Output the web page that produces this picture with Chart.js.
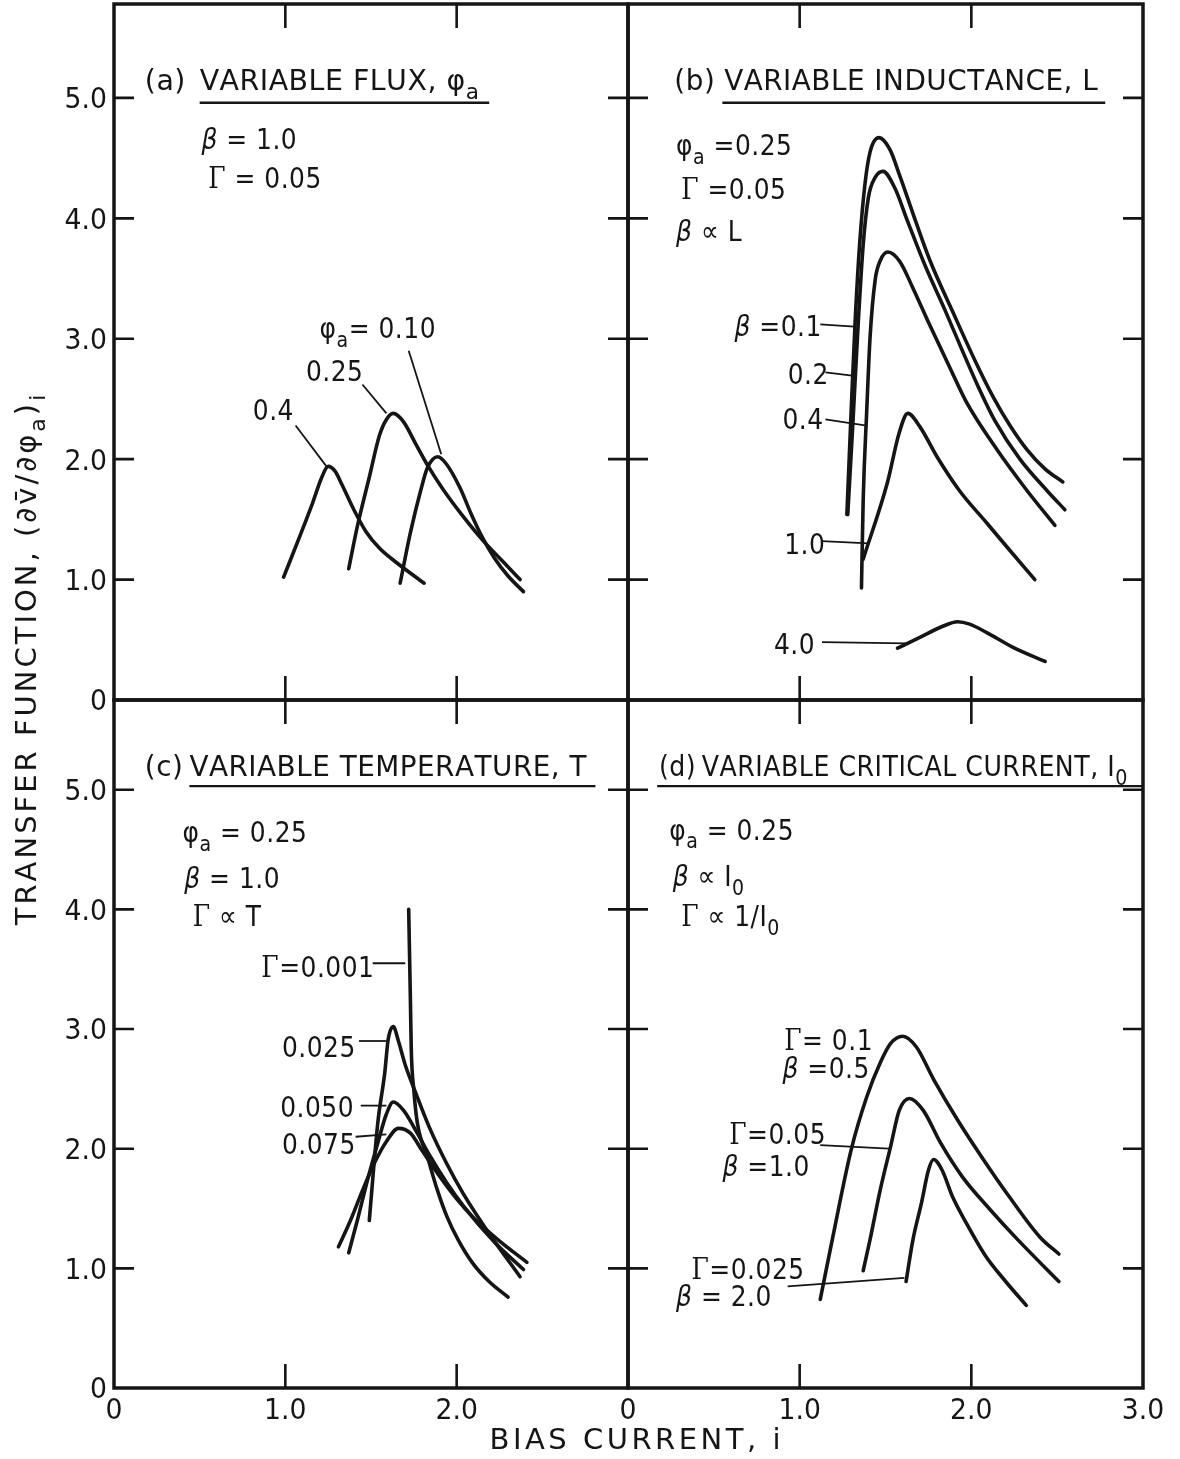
<!DOCTYPE html>
<html>
<head>
<meta charset="utf-8">
<title>Transfer function vs bias current</title>
<script src="https://cdn.jsdelivr.net/npm/chart.js@4.4.1/dist/chart.umd.min.js"></script>
<style>
  html, body { margin: 0; padding: 0; background: #fff; }
  #fig { position: relative; width: 1180px; height: 1459px; }
  #fig canvas { position: absolute; left: 0; top: 0; }
</style>
</head>
<body>
<div id="fig">
  <canvas id="panel-a" width="1180" height="1459"></canvas>
  <canvas id="panel-b" width="1180" height="1459"></canvas>
  <canvas id="panel-c" width="1180" height="1459"></canvas>
  <canvas id="panel-d" width="1180" height="1459"></canvas>
</div>
<script>
// ---- axes ----
const yTickValues = [1, 2, 3, 4, 5];
const xTickValues = [1, 2];
const yLabelValues = [0, 1, 2, 3, 4, 5];
const yLabelText = ['0', '1.0', '2.0', '3.0', '4.0', '5.0'];
const xLabelValues = [0, 1, 2, 3];
const xLabelText = ['0', '1.0', '2.0', '3.0'];

// ---- (a) variable flux, beta = 1.0, gamma = 0.05 ----
const fluxPhi010 = [[1.67,0.97],[1.73,1.39],[1.79,1.74],[1.83,1.93],[1.89,2.02],[1.94,1.96],[2.02,1.76],[2.08,1.56],[2.15,1.35],[2.22,1.18],[2.30,1.03],[2.39,0.90]];
const fluxPhi025 = [[1.37,1.09],[1.42,1.44],[1.49,1.85],[1.55,2.20],[1.59,2.33],[1.63,2.38],[1.69,2.31],[1.76,2.13],[1.83,1.95],[1.92,1.75],[2.04,1.52],[2.15,1.33],[2.27,1.15],[2.37,1.00]];
const fluxPhi040 = [[0.99,1.02],[1.09,1.38],[1.16,1.64],[1.21,1.84],[1.25,1.94],[1.29,1.90],[1.33,1.79],[1.40,1.58],[1.47,1.40],[1.55,1.26],[1.65,1.14],[1.81,0.97]];
const leadersFlux = [
  [[1.06,2.28],[1.24,1.94]],
  [[1.45,2.62],[1.59,2.38]],
  [[1.72,2.90],[1.91,2.04]]
];

// ---- (b) variable inductance, phi_a = 0.25, gamma = 0.05 ----
const indBeta01 = [[1.275,1.54],[1.30,2.40],[1.325,3.20],[1.35,3.80],[1.38,4.28],[1.41,4.55],[1.462,4.67],[1.526,4.57],[1.584,4.35],[1.66,4.04],[1.759,3.65],[1.893,3.22],[2.021,2.82],[2.126,2.52],[2.225,2.28],[2.324,2.08],[2.429,1.92],[2.533,1.81]];
const indBeta02 = [[1.28,1.54],[1.31,2.30],[1.34,3.10],[1.37,3.78],[1.40,4.17],[1.44,4.34],[1.485,4.39],[1.555,4.25],[1.625,3.99],[1.73,3.61],[1.846,3.24],[1.945,2.91],[2.044,2.59],[2.137,2.32],[2.283,2.00],[2.44,1.74],[2.545,1.58]];
const indBeta04 = [[1.36,0.93],[1.37,1.66],[1.39,2.38],[1.41,3.01],[1.44,3.49],[1.47,3.65],[1.514,3.72],[1.584,3.64],[1.66,3.42],[1.759,3.11],[1.875,2.76],[1.969,2.48],[2.149,2.08],[2.324,1.74],[2.487,1.45]];
const indBeta10 = [[1.37,1.17],[1.51,1.80],[1.58,2.22],[1.63,2.38],[1.70,2.27],[1.80,2.02],[1.93,1.74],[2.09,1.47],[2.22,1.25],[2.37,1.00]];
const indBeta40 = [[1.57,0.43],[1.70,0.52],[1.83,0.61],[1.92,0.65],[1.99,0.63],[2.09,0.56],[2.24,0.44],[2.43,0.32]];
const leadersInductance = [
  [[1.12,3.12],[1.32,3.10]],
  [[1.15,2.72],[1.33,2.69]],
  [[1.15,2.33],[1.38,2.28]],
  [[1.13,1.32],[1.40,1.30]],
  [[1.13,0.48],[1.62,0.47]]
];

// ---- (c) variable temperature, phi_a = 0.25, beta = 1.0 ----
const tempGam0001 = [[1.72,4.00],[1.73,3.24],[1.735,2.83],[1.75,2.49],[1.77,2.22],[1.83,1.93],[1.886,1.66],[1.944,1.43],[2.008,1.24],[2.09,1.05],[2.189,0.89],[2.30,0.76]];
const tempGam0025 = [[1.49,1.40],[1.54,2.22],[1.58,2.63],[1.60,2.91],[1.63,3.02],[1.66,2.90],[1.70,2.70],[1.76,2.47],[1.84,2.18],[1.94,1.88],[2.04,1.62],[2.19,1.29],[2.37,0.93]];
const tempGam0050 = [[1.37,1.13],[1.42,1.40],[1.48,1.74],[1.54,2.05],[1.59,2.29],[1.63,2.39],[1.69,2.32],[1.77,2.13],[1.84,1.95],[1.94,1.72],[2.04,1.52],[2.22,1.22],[2.39,0.99]];
const tempGam0075 = [[1.31,1.18],[1.38,1.40],[1.45,1.65],[1.52,1.88],[1.59,2.06],[1.66,2.17],[1.73,2.13],[1.80,1.98],[1.90,1.77],[2.00,1.58],[2.10,1.42],[2.24,1.24],[2.41,1.05]];
const leadersTemperature = [
  [[1.51,3.55],[1.70,3.55]],
  [[1.43,2.90],[1.59,2.90]],
  [[1.44,2.36],[1.59,2.36]],
  [[1.41,2.10],[1.59,2.12]]
];

// ---- (d) variable critical current, phi_a = 0.25 ----
const critGam0100 = [[1.12,0.74],[1.19,1.24],[1.30,1.99],[1.39,2.43],[1.47,2.72],[1.53,2.88],[1.60,2.94],[1.68,2.85],[1.78,2.58],[1.92,2.24],[2.07,1.91],[2.22,1.60],[2.40,1.26],[2.51,1.12]];
const critGam0050 = [[1.37,0.98],[1.41,1.24],[1.47,1.66],[1.53,2.02],[1.58,2.32],[1.64,2.42],[1.72,2.32],[1.82,2.05],[1.95,1.76],[2.11,1.49],[2.27,1.24],[2.51,0.89]];
const critGam0025 = [[1.62,0.89],[1.66,1.24],[1.71,1.55],[1.75,1.82],[1.78,1.91],[1.83,1.82],[1.89,1.60],[1.97,1.38],[2.08,1.11],[2.20,0.89],[2.32,0.69]];
const leadersCritical = [
  [[1.12,2.03],[1.52,2.00]],
  [[0.93,0.85],[1.61,0.92]]
];

// ---- text placed in data units: [text, left x, centre y]; the first two are the heading ----
const notesFlux = [
  ['(a)', 0.18, 5.15], ['VARIABLE FLUX, φ_a', 0.50, 5.15],
  ['β = 1.0', 0.51, 4.66], ['Γ = 0.05', 0.55, 4.34],
  ['φ_a= 0.10', 1.20, 3.09], ['0.25', 1.12, 2.74], ['0.4', 0.81, 2.41]
];
const notesInductance = [
  ['(b)', 0.27, 5.15], ['VARIABLE INDUCTANCE, L', 0.56, 5.15],
  ['φ_a =0.25', 0.28, 4.61], ['Γ =0.05', 0.31, 4.25], ['β ∝ L', 0.28, 3.90],
  ['β =0.1', 0.62, 3.11], ['0.2', 0.93, 2.71], ['0.4', 0.90, 2.34],
  ['1.0', 0.91, 1.30], ['4.0', 0.85, 0.47]
];
const notesTemperature = [
  ['(c)', 0.18, 5.20], ['VARIABLE TEMPERATURE, T', 0.44, 5.20],
  ['φ_a = 0.25', 0.40, 4.65], ['β = 1.0', 0.41, 4.27], ['Γ ∝ T', 0.46, 3.95],
  ['Γ=0.001', 0.86, 3.52], ['0.025', 0.98, 2.85], ['0.050', 0.97, 2.35], ['0.075', 0.98, 2.04]
];
const notesCritical = [
  ['(d)', 0.18, 5.20], ['VARIABLE CRITICAL CURRENT, I_0', 0.43, 5.20],
  ['φ_a = 0.25', 0.24, 4.67], ['β ∝ I_0', 0.26, 4.28], ['Γ ∝ 1/I_0', 0.31, 3.95],
  ['Γ= 0.1', 0.91, 2.91], ['β =0.5', 0.90, 2.68],
  ['Γ=0.05', 0.59, 2.13], ['β =1.0', 0.55, 1.86],
  ['Γ=0.025', 0.37, 1.00], ['β = 2.0', 0.28, 0.77]
];
// heading underline: [from x, to x, y]
const ruleFlux = [0.50, 2.19, 4.96];
const ruleInductance = [0.55, 2.78, 4.96];
const ruleTemperature = [0.44, 2.81, 5.03];
const ruleCritical = [0.17, 3.0, 5.03];

// ---- layout ----
const W = 1180, H = 1459;
const colX = [114, 628, 1143];
const rowY = [4, 700, 1388];
const INK = '#151515';
const FONT = '"DejaVu Sans", sans-serif';
const TICK = 20;

function glyphRuns(text) {
  const runs = [];
  for (let i = 0; i < text.length; i++) {
    let ch = text[i], sub = false;
    if (ch === '_') { sub = true; ch = text[++i]; }
    while (i + 1 < text.length && /[\u0300-\u036f]/.test(text[i + 1])) ch += text[++i];
    runs.push({ ch, sub });
  }
  return runs;
}

function runFont(r, size) {
  if (r.sub) return `${Math.round(size * 0.75)}px ${FONT}`;
  if (r.ch === 'Γ') return `${size}px "DejaVu Serif", serif`;
  if (r.ch === 'β') return `italic ${size}px ${FONT}`;
  return `${size}px ${FONT}`;
}

// draws text with '_x' subscripts; cy is the middle of the capitals,
// squeeze narrows the glyphs horizontally
function drawRich(ctx, text, x, cy, size, align, spacing, squeeze) {
  spacing = spacing || 0;
  squeeze = squeeze || 1;
  const runs = glyphRuns(text);
  let total = 0;
  for (const r of runs) {
    ctx.font = runFont(r, size);
    r.w = ctx.measureText(r.ch).width * squeeze;
    total += r.w + spacing;
  }
  total -= spacing;
  let px = align === 'right' ? x - total : align === 'center' ? x - total / 2 : x;
  const base = cy + size * 0.36;
  ctx.textAlign = 'left';
  ctx.textBaseline = 'alphabetic';
  for (const r of runs) {
    ctx.font = runFont(r, size);
    ctx.save();
    ctx.translate(px, base + (r.sub ? size * 0.3 : 0));
    ctx.scale(squeeze, 1);
    ctx.fillText(r.ch, 0, 0);
    ctx.restore();
    px += r.w + spacing;
  }
}

function makeDecor(p) {
  return {
    id: 'panelDecor',
    afterDatasetsDraw(chart) {
      const { ctx, chartArea: a } = chart;
      const x = chart.scales.x, y = chart.scales.y;
      ctx.save();
      ctx.strokeStyle = INK;
      ctx.fillStyle = INK;
      ctx.lineCap = 'butt';

      ctx.lineWidth = 3.5;
      ctx.strokeRect(a.left, a.top, a.right - a.left, a.bottom - a.top);

      // inward ticks on all four sides
      ctx.lineWidth = 2.6;
      ctx.beginPath();
      for (const v of yTickValues) {
        const py = y.getPixelForValue(v);
        ctx.moveTo(a.left, py); ctx.lineTo(a.left + TICK, py);
        ctx.moveTo(a.right, py); ctx.lineTo(a.right - TICK, py);
      }
      for (const v of xTickValues) {
        const px = x.getPixelForValue(v);
        ctx.moveTo(px, a.top); ctx.lineTo(px, a.top + TICK + 4);
        ctx.moveTo(px, a.bottom); ctx.lineTo(px, a.bottom - TICK - 4);
      }
      ctx.stroke();

      if (p.yLabels) {
        yLabelValues.forEach((v, i) => {
          drawRich(ctx, yLabelText[i], a.left - 7, y.getPixelForValue(v), 29, 'right', 0, 0.92);
        });
      }
      for (let i = 0; i < p.xLabels; i++) {
        drawRich(ctx, xLabelText[i], x.getPixelForValue(xLabelValues[i]), a.bottom + 21, 29, 'center', 0, 0.92);
      }

      // heading underline
      ctx.lineWidth = 2.4;
      ctx.beginPath();
      ctx.moveTo(x.getPixelForValue(p.rule[0]), y.getPixelForValue(p.rule[2]));
      ctx.lineTo(x.getPixelForValue(p.rule[1]), y.getPixelForValue(p.rule[2]));
      ctx.stroke();

      p.notes.forEach(([t, nx, ny], i) => {
        const sq = i < 2 ? p.headSqueeze : 0.86;
        drawRich(ctx, t, x.getPixelForValue(nx), y.getPixelForValue(ny), 29, 'left', 0.5, sq);
      });

      if (p.yTitle) {
        ctx.save();
        ctx.translate(26, rowY[1] - 40);
        ctx.rotate(-Math.PI / 2);
        drawRich(ctx, 'TRANSFER FUNCTION, (∂v̄/∂φ_a)_i', 0, 0, 29, 'center', 3);
        ctx.restore();
      }
      if (p.xTitle) {
        drawRich(ctx, 'BIAS CURRENT, i', colX[1] + 7, rowY[2] + 51, 29, 'center', 3.5);
      }
      ctx.restore();
    }
  };
}

function curveSet(points) {
  return {
    data: points.map(([x, y]) => ({ x, y })),
    borderColor: INK,
    borderWidth: 3.6,
    pointRadius: 0,
    fill: false,
    cubicInterpolationMode: 'monotone',
    borderCapStyle: 'round',
    borderJoinStyle: 'round'
  };
}

function leaderSet(points) {
  return {
    data: points.map(([x, y]) => ({ x, y })),
    borderColor: INK,
    borderWidth: 1.8,
    pointRadius: 0,
    fill: false,
    tension: 0
  };
}

const panels = [
  { canvas: 'panel-a', box: [colX[0], rowY[0], colX[1], rowY[1]], yMax: 5.78,
    curves: [fluxPhi010, fluxPhi025, fluxPhi040], leaders: leadersFlux,
    notes: notesFlux, rule: ruleFlux, headSqueeze: 0.98, yLabels: true, xLabels: 0 },
  { canvas: 'panel-b', box: [colX[1], rowY[0], colX[2], rowY[1]], yMax: 5.78,
    curves: [indBeta01, indBeta02, indBeta04, indBeta10, indBeta40], leaders: leadersInductance,
    notes: notesInductance, rule: ruleInductance, headSqueeze: 0.96, yLabels: false, xLabels: 0 },
  { canvas: 'panel-c', box: [colX[0], rowY[1], colX[1], rowY[2]], yMax: 5.75,
    curves: [tempGam0001, tempGam0025, tempGam0050, tempGam0075], leaders: leadersTemperature,
    notes: notesTemperature, rule: ruleTemperature, headSqueeze: 0.96, yLabels: true, xLabels: 3, yTitle: true },
  { canvas: 'panel-d', box: [colX[1], rowY[1], colX[2], rowY[2]], yMax: 5.75,
    curves: [critGam0100, critGam0050, critGam0025], leaders: leadersCritical,
    notes: notesCritical, rule: ruleCritical, headSqueeze: 0.87, yLabels: false, xLabels: 4, xTitle: true }
];

for (const p of panels) {
  const [l, t, r, b] = p.box;
  new Chart(document.getElementById(p.canvas), {
    type: 'line',
    data: {
      datasets: [...p.curves.map(curveSet), ...p.leaders.map(leaderSet)]
    },
    options: {
      responsive: false,
      animation: false,
      devicePixelRatio: 1,
      events: [],
      layout: { padding: { left: l, top: t, right: W - r, bottom: H - b } },
      scales: {
        x: { type: 'linear', min: 0, max: 3, display: false },
        y: { type: 'linear', min: 0, max: p.yMax, display: false }
      },
      plugins: { legend: { display: false }, tooltip: { enabled: false } }
    },
    plugins: [makeDecor(p)]
  });
}
</script>
</body>
</html>
